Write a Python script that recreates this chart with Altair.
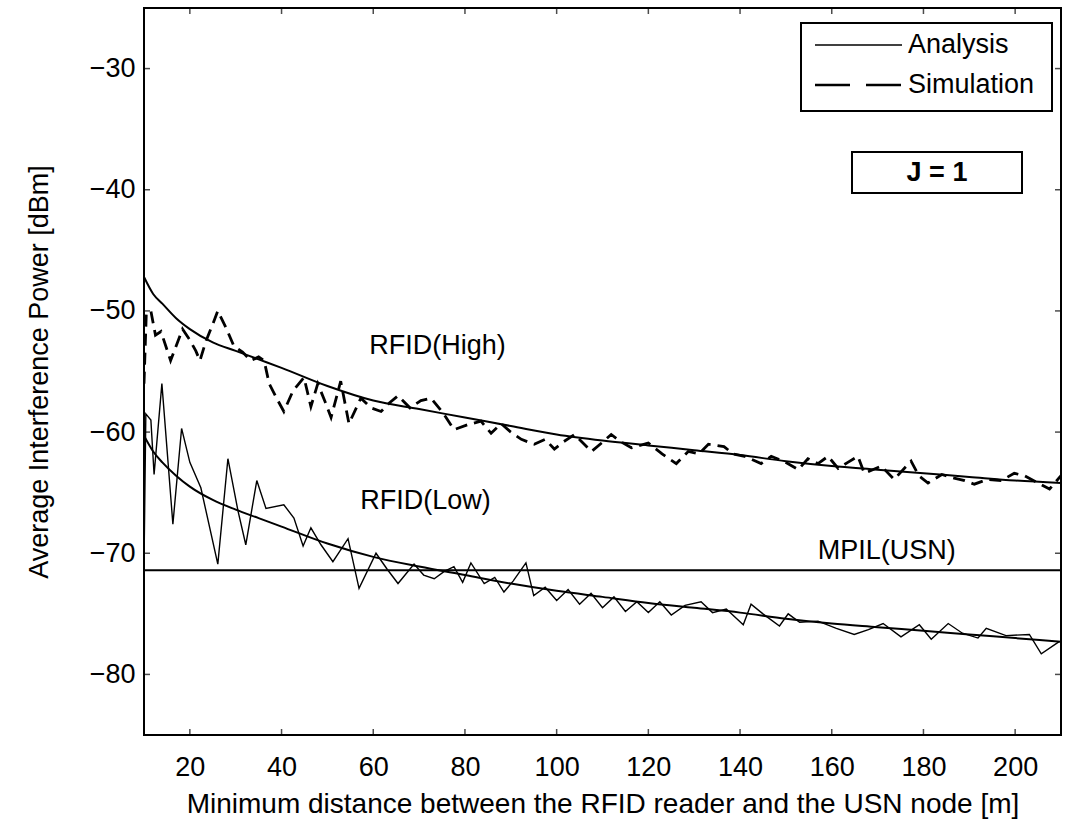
import altair as alt
import pandas as pd

# ---------------- data ----------------
x_ticks = [20, 40, 60, 80, 100, 120, 140, 160, 180, 200]
y_ticks = [-80, -70, -60, -50, -40, -30]

analysis_x = [10, 12, 14, 17, 20, 25, 30, 35, 40, 50, 60, 70, 80, 90, 100,
              110, 120, 130, 140, 150, 160, 170, 180, 190, 200, 210]
high_analysis_y = [-47.2, -48.6, -49.4, -50.6, -51.5, -52.6, -53.3, -54.0, -54.7, -56.2,
                   -57.4, -58.1, -58.8, -59.5, -60.2, -60.7, -61.1, -61.5, -61.9, -62.4,
                   -62.8, -63.1, -63.4, -63.7, -64.0, -64.2]
low_analysis_y = [-60.3, -61.6, -62.5, -63.6, -64.5, -65.6, -66.4, -67.1, -67.8, -69.2,
                  -70.3, -71.1, -71.8, -72.5, -73.1, -73.6, -74.1, -74.5, -74.9, -75.4,
                  -75.8, -76.1, -76.4, -76.7, -77.0, -77.3]

high_sim_x = [10.0, 10.5, 11.5, 12.5, 13.7, 15.8, 18.4, 20.0, 21.3, 22.2, 23.5, 25.1, 26.1,
              27.9, 29.6, 31.5, 33.3, 35.0, 36.2, 37.3, 39.2, 40.5, 42.5, 44.9, 46.4, 47.9,
              49.5, 50.8, 52.9, 54.7, 57.3, 59.5, 61.7, 63.5, 65.4, 68.0, 70.4, 72.6, 75.2,
              77.6, 80.5, 83.5, 85.7, 87.9, 90.0, 92.3, 95.1, 97.5, 99.5, 101.5, 103.9,
              107.6, 109.8, 111.9, 114.0, 116.3, 120.0, 123.0, 126.1, 128.7, 131.0, 133.1,
              136.5, 138.5, 141.0, 144.6, 146.8, 149.5, 152.7, 154.8, 157.0, 159.2, 161.4,
              163.5, 165.7, 167.1, 170.8, 173.6, 177.3, 179.0, 181.0, 184.0, 186.7, 189.0,
              191.1, 194.0, 197.0, 199.8, 202.0, 205.0, 207.5, 210.0]
high_sim_y = [-56.0, -50.2, -50.0, -52.0, -51.7, -54.1, -51.5, -52.4, -53.3, -54.1, -52.5,
              -51.0, -50.0, -51.4, -52.9, -53.4, -54.1, -53.8, -54.1, -56.0, -57.4, -58.3,
              -56.6, -55.5, -57.9, -56.0, -57.5, -58.8, -55.8, -59.3, -57.2, -58.0, -58.3,
              -57.6, -57.0, -58.0, -57.4, -57.2, -58.4, -59.8, -59.4, -59.1, -60.1, -59.3,
              -60.0, -60.6, -61.0, -60.6, -61.4, -60.8, -60.2, -61.6, -60.9, -60.2, -60.8,
              -61.3, -60.9, -61.8, -62.6, -61.6, -61.8, -61.0, -61.2, -61.8, -62.0, -62.6,
              -62.0, -62.4, -63.1, -62.2, -62.6, -62.0, -63.0, -62.5, -62.0, -63.4, -62.8,
              -63.9, -62.4, -63.6, -64.2, -63.5, -63.8, -64.0, -64.3, -63.9, -64.0, -63.4,
              -63.6, -64.2, -64.7, -63.6]

low_sim_x = [10.0, 10.4, 11.5, 12.2, 13.9, 16.3, 18.2, 20.0, 22.4, 26.1, 28.3, 30.5, 32.2,
             34.6, 36.6, 40.5, 42.7, 44.7, 46.4, 48.6, 51.2, 54.5, 56.9, 60.6, 63.0, 65.4,
             68.9, 71.0, 73.3, 75.5, 77.6, 79.5, 81.3, 84.2, 86.5, 88.5, 90.5, 93.3, 95.0,
             97.5, 100.0, 102.5, 105.0, 107.5, 110.0, 112.5, 115.0, 117.5, 120.0, 122.5,
             125.0, 128.0, 131.5, 134.0, 137.0, 140.7, 142.4, 145.0, 148.6, 150.5, 153.0,
             157.0, 161.0, 164.9, 168.0, 171.2, 175.1, 179.1, 181.7, 185.4, 188.5, 191.9,
             193.7, 198.0, 203.1, 205.7, 209.6]
low_sim_y = [-71.0, -58.5, -59.0, -63.5, -56.0, -67.6, -59.7, -62.5, -64.6, -70.9, -62.2,
             -66.5, -69.3, -64.0, -66.3, -66.0, -67.1, -69.4, -67.9, -69.3, -70.7, -68.8,
             -72.9, -70.0, -71.3, -72.5, -70.9, -71.8, -72.1, -71.5, -71.1, -72.4, -70.8,
             -72.5, -72.0, -73.2, -72.3, -70.8, -73.5, -72.8, -73.9, -73.0, -74.2, -73.3,
             -74.5, -73.6, -74.8, -74.0, -74.9, -74.0, -75.1, -74.3, -74.0, -74.9, -74.6,
             -75.9, -74.2, -75.0, -76.0, -75.0, -75.7, -75.6, -76.2, -76.7, -76.3, -75.8,
             -76.9, -75.9, -77.1, -75.8, -76.6, -77.0, -76.2, -76.8, -76.7, -78.3, -77.3]

mpil_level = [-71.4]

label_text = ["RFID(High)", "RFID(Low)", "MPIL(USN)"]
label_x = [74.0, 71.4, 172.0]
label_y = [-52.9, -65.7, -69.8]

legend_labels = ["Analysis", "Simulation"]
box_text = "J = 1"

# ---------------- chart ----------------
W, H = 917, 727
FONT = "Liberation Sans"
xs = alt.Scale(domain=[10, 210], nice=False, zero=False)
ys = alt.Scale(domain=[-85, -25], nice=False, zero=False)

ana_df = pd.DataFrame({
    "x": analysis_x + analysis_x,
    "y": high_analysis_y + low_analysis_y,
    "curve": ["high"] * len(analysis_x) + ["low"] * len(analysis_x),
})
hs_df = pd.DataFrame({"x": high_sim_x, "y": high_sim_y})
ls_df = pd.DataFrame({"x": low_sim_x, "y": low_sim_y})
mp_df = pd.DataFrame({"y": mpil_level})
lab_df = pd.DataFrame({"t": label_text, "x": label_x, "y": label_y})
xt_df = pd.DataFrame({"x": x_ticks})
yt_df = pd.DataFrame({"y": y_ticks})
one = pd.DataFrame({"a": [0]})

X_AX = alt.Axis(values=x_ticks, title="Minimum distance between the RFID reader and the USN node [m]",
                labelPadding=19, titlePadding=10, titleFontSize=28)
Y_AX = alt.Axis(values=y_ticks, title="Average Interference Power [dBm]",
                labelPadding=9, titlePadding=36, titleFontSize=27)


def X(field="x"):
    return alt.X(f"{field}:Q", scale=xs, axis=X_AX)


def Y(field="y"):
    return alt.Y(f"{field}:Q", scale=ys, axis=Y_AX)


analysis = alt.Chart(ana_df).mark_line(color="black", strokeWidth=2, clip=True,
                                       interpolate="monotone").encode(
    x=X(), y=Y(), detail="curve:N",
)

high_sim = alt.Chart(hs_df).mark_line(color="black", strokeWidth=2.8, strokeDash=[12, 7],
                                      clip=True).encode(x=X(), y=Y())

low_sim = alt.Chart(ls_df).mark_line(color="black", strokeWidth=1.4, clip=True).encode(
    x=X(), y=Y())

mpil = alt.Chart(mp_df).mark_rule(color="black", strokeWidth=2).encode(y=Y())

labels = alt.Chart(lab_df).mark_text(font=FONT, fontSize=27, color="black").encode(
    x=X(), y=Y(), text="t:N",
)

tick_b = alt.Chart(xt_df).mark_tick(color="black", size=12, thickness=1.5, clip=True).encode(
    x=X(), y=alt.value(H))
tick_t = alt.Chart(xt_df).mark_tick(color="black", size=12, thickness=1.5, clip=True).encode(
    x=X(), y=alt.value(0))
tick_l = alt.Chart(yt_df).mark_tick(color="black", size=12, thickness=1.5, clip=True).encode(
    y=Y(), x=alt.value(0))
tick_r = alt.Chart(yt_df).mark_tick(color="black", size=12, thickness=1.5, clip=True).encode(
    y=Y(), x=alt.value(W))

# legend box (drawn in pixel space of the plot area)
leg_box = alt.Chart(one).mark_rect(fill="white", stroke="black", strokeWidth=2).encode(
    x=alt.value(657), x2=alt.value(908), y=alt.value(15), y2=alt.value(103))
leg_line1 = alt.Chart(one).mark_rule(color="black", strokeWidth=1.6).encode(
    x=alt.value(671), x2=alt.value(758), y=alt.value(37))
leg_line2 = alt.Chart(one).mark_rule(color="black", strokeWidth=2.4, strokeDash=[35, 16]).encode(
    x=alt.value(671), x2=alt.value(758), y=alt.value(77))
leg_t1 = alt.Chart(one).mark_text(text=legend_labels[0], font=FONT, fontSize=27, align="left",
                                  baseline="middle", color="black").encode(
    x=alt.value(764), y=alt.value(37))
leg_t2 = alt.Chart(one).mark_text(text=legend_labels[1], font=FONT, fontSize=27, align="left",
                                  baseline="middle", color="black").encode(
    x=alt.value(764), y=alt.value(77))

j_box = alt.Chart(one).mark_rect(fill="white", stroke="black", strokeWidth=2).encode(
    x=alt.value(708), x2=alt.value(878), y=alt.value(144), y2=alt.value(185))
j_text = alt.Chart(one).mark_text(text=box_text, font=FONT, fontSize=27, fontWeight="bold",
                                  baseline="middle", color="black").encode(
    x=alt.value(793), y=alt.value(165))

chart = alt.layer(
    analysis, high_sim, low_sim, mpil, labels,
    tick_b, tick_t, tick_l, tick_r,
    leg_box, leg_line1, leg_line2, leg_t1, leg_t2, j_box, j_text,
).properties(
    width=W, height=H,
    padding={"left": 144, "top": 8, "right": 16, "bottom": 93},
    autosize=alt.AutoSizeParams(type="none"),
    background="white",
).configure_view(
    stroke="black", strokeWidth=2,
).configure_axis(
    labelFont=FONT, labelFontSize=27, labelColor="black",
    titleFont=FONT, titleFontSize=26, titleColor="black", titleFontWeight="normal",
    grid=False, domain=False, ticks=False,
)

chart.save("out.html", embed_options={"renderer": "svg", "actions": False})
